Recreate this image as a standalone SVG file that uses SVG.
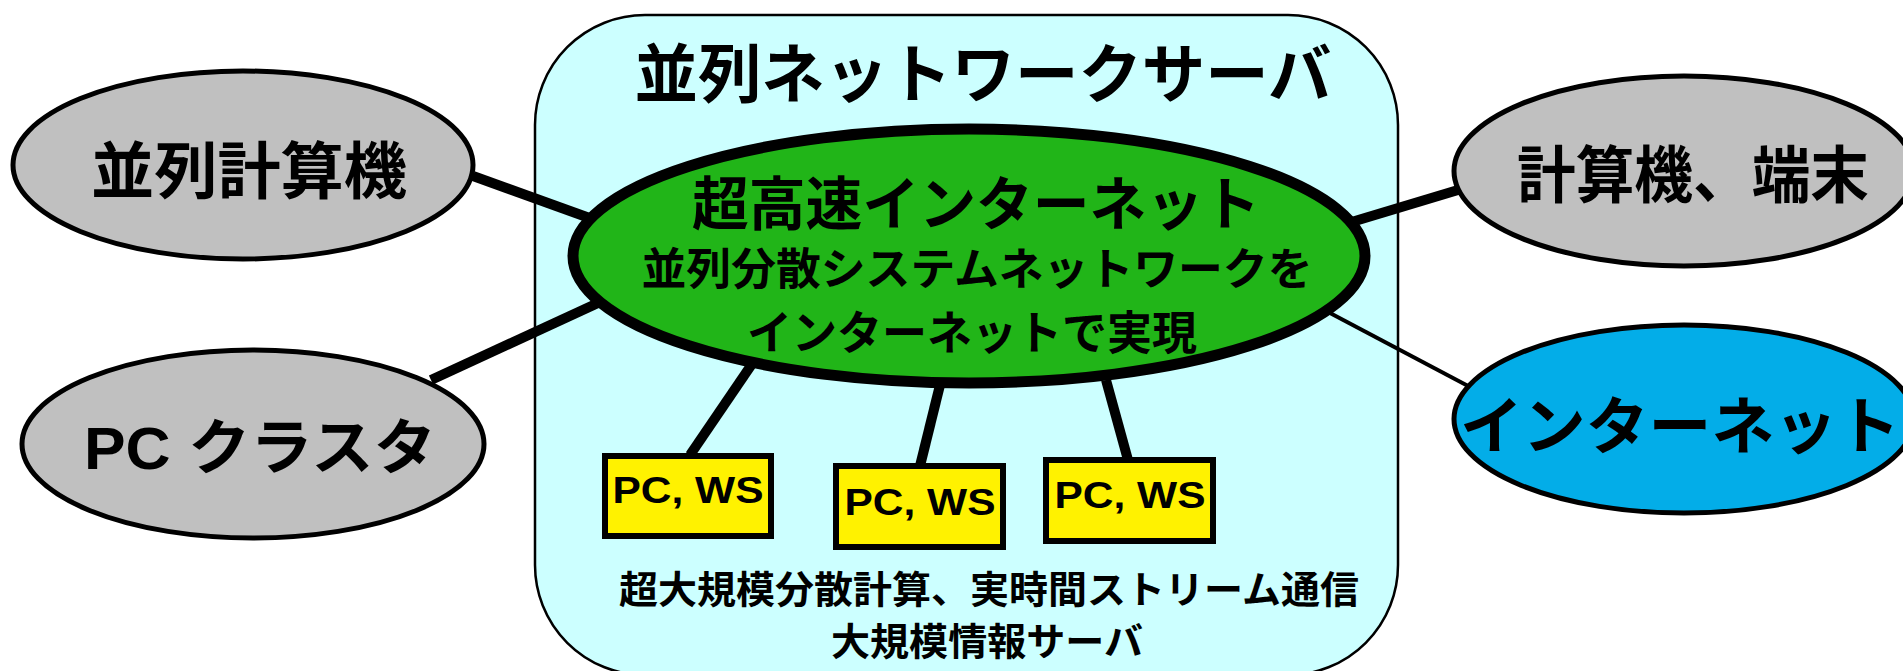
<svg xmlns="http://www.w3.org/2000/svg" width="1903" height="671" viewBox="0 0 1903 671">
<style>
.t{font-family:"Noto Sans CJK JP","Liberation Sans",sans-serif;font-weight:700;fill:#000;text-anchor:middle}
.lat{font-family:"Liberation Sans","Noto Sans CJK JP",sans-serif;font-weight:700;fill:#000;text-anchor:middle}
.gray{fill:#C0C0C0;stroke:#000;stroke-width:5}
.box{fill:#FFF200;stroke:#000;stroke-width:6}
.thick{stroke:#000;stroke-width:10;fill:none}
.thin{stroke:#000;stroke-width:4;fill:none}
</style>
<rect width="1903" height="671" fill="#fff"/>
<g id="server">
<rect x="535" y="15" width="863" height="660" rx="110" ry="110" fill="#CCFFFF" stroke="#000" stroke-width="2.5"/>
<text class="t" x="983" y="97" font-size="64" textLength="697" lengthAdjust="spacingAndGlyphs">並列ネットワークサーバ</text>
<text class="t" x="989" y="603" font-size="38" textLength="740" lengthAdjust="spacingAndGlyphs">超大規模分散計算、実時間ストリーム通信</text>
<text class="t" x="987" y="655" font-size="38" textLength="312" lengthAdjust="spacingAndGlyphs">大規模情報サーバ</text>
</g>
<g id="connectors">
<line class="thick" x1="473" y1="176" x2="595" y2="220"/>
<line class="thick" x1="431" y1="380" x2="598" y2="303"/>
<line class="thick" x1="1345" y1="224" x2="1458" y2="190"/>
<line class="thin" x1="1330" y1="313" x2="1470" y2="387"/>
<line class="thick" x1="690" y1="455" x2="752" y2="364"/>
<line class="thick" x1="920" y1="466" x2="940" y2="385"/>
<line class="thick" x1="1128" y1="460" x2="1106" y2="380"/>
</g>
<g id="hub">
<ellipse cx="969" cy="256" rx="396" ry="127" fill="#21B518" stroke="#000" stroke-width="11"/>
<text class="t" x="976" y="225" font-size="58" textLength="568" lengthAdjust="spacingAndGlyphs">超高速インターネット</text>
<text class="t" x="977" y="285" font-size="44" textLength="671" lengthAdjust="spacingAndGlyphs">並列分散システムネットワークを</text>
<text class="t" x="972" y="349" font-size="46" textLength="450" lengthAdjust="spacingAndGlyphs">インターネットで実現</text>
</g>
<g id="parallel-computer">
<ellipse class="gray" cx="243" cy="165" rx="230" ry="94"/>
<text class="t" x="249" y="194" font-size="62" textLength="316" lengthAdjust="spacingAndGlyphs">並列計算機</text>
</g>
<g id="pc-cluster">
<ellipse class="gray" cx="253" cy="444" rx="231" ry="94"/>
<text class="lat" x="260" y="469" font-size="60" textLength="352" lengthAdjust="spacingAndGlyphs">PC クラスタ</text>
</g>
<g id="computer-terminal">
<ellipse class="gray" cx="1684" cy="171" rx="230" ry="95"/>
<text class="t" x="1693" y="198" font-size="62" textLength="352" lengthAdjust="spacingAndGlyphs">計算機、端末</text>
</g>
<g id="internet">
<ellipse cx="1684" cy="419" rx="230" ry="94" fill="#03ADE8" stroke="#000" stroke-width="5"/>
<text class="t" x="1680" y="449" font-size="62" textLength="440" lengthAdjust="spacingAndGlyphs">インターネット</text>
</g>
<g id="pcws1">
<rect class="box" x="605" y="456" width="166" height="80"/>
<text class="lat" x="688" y="503" font-size="36" textLength="151" lengthAdjust="spacingAndGlyphs">PC, WS</text>
</g>
<g id="pcws2">
<rect class="box" x="836" y="466" width="167" height="81"/>
<text class="lat" x="920" y="515" font-size="36" textLength="151" lengthAdjust="spacingAndGlyphs">PC, WS</text>
</g>
<g id="pcws3">
<rect class="box" x="1046" y="460" width="167" height="81"/>
<text class="lat" x="1130" y="508" font-size="36" textLength="151" lengthAdjust="spacingAndGlyphs">PC, WS</text>
</g>
</svg>
